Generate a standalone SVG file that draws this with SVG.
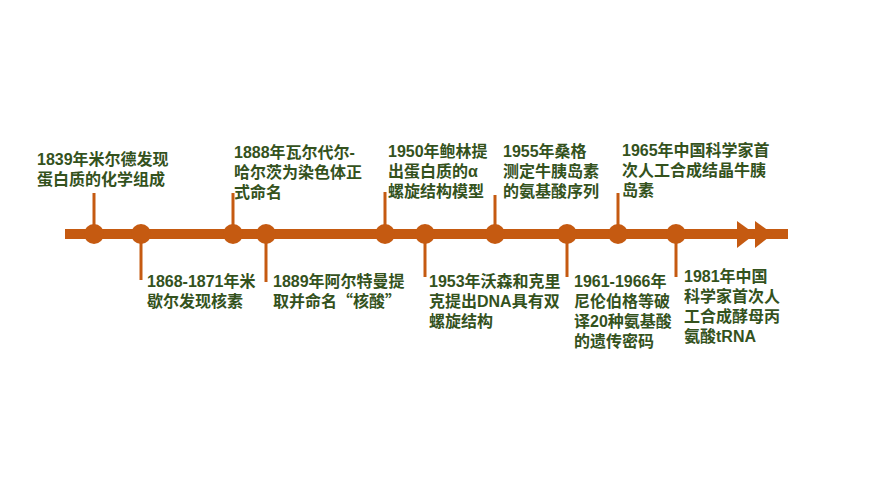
<svg xmlns="http://www.w3.org/2000/svg" width="870" height="489" viewBox="0 0 870 489">
<style>
.t{font-family:"Liberation Sans","Noto Sans CJK SC",sans-serif;font-weight:bold;font-size:16px;fill:#34521d}
.q{font-family:"Noto Sans CJK SC",sans-serif}
.s{stroke:#c55a11;stroke-width:3;fill:none}
.c{fill:#c55a11}
</style>
<rect width="870" height="489" fill="#ffffff"/>
<g id="connectors">
<rect x="65" y="229" width="723" height="10" class="c"/>
<polygon points="737,221 755,234 737,248" class="c"/>
<polygon points="755,221 773,234 755,248" class="c"/>
<line x1="94" y1="193" x2="94" y2="234" class="s"/>
<line x1="141" y1="234" x2="141" y2="280" class="s"/>
<line x1="233" y1="193" x2="233" y2="234" class="s"/>
<line x1="266" y1="234" x2="266" y2="282" class="s"/>
<line x1="385" y1="192" x2="385" y2="234" class="s"/>
<line x1="425" y1="234" x2="425" y2="277" class="s"/>
<line x1="495" y1="195" x2="495" y2="234" class="s"/>
<line x1="567" y1="234" x2="567" y2="277" class="s"/>
<line x1="618" y1="193" x2="618" y2="234" class="s"/>
<line x1="676" y1="234" x2="676" y2="277" class="s"/>
</g>
<g id="n1839"><circle cx="94" cy="234" r="10" class="c"/><text class="t" x="37" y="165">1839年米尔德发现</text><text class="t" x="37" y="185">蛋白质的化学组成</text></g>
<g id="n1868"><circle cx="141" cy="234" r="10" class="c"/><text class="t" x="147" y="287">1868-1871年米</text><text class="t" x="147" y="307">歇尔发现核素</text></g>
<g id="n1888"><circle cx="233" cy="234" r="10" class="c"/><text class="t" x="234" y="158">1888年瓦尔代尔-</text><text class="t" x="234" y="178">哈尔茨为染色体正</text><text class="t" x="234" y="198">式命名</text></g>
<g id="n1889"><circle cx="266" cy="234" r="10" class="c"/><text class="t" x="273" y="287">1889年阿尔特曼提</text><text class="t" x="273" y="307">取并命名<tspan class="q">“</tspan>核酸<tspan class="q">”</tspan></text></g>
<g id="n1950"><circle cx="385" cy="234" r="10" class="c"/><text class="t" x="388" y="157">1950年鲍林提</text><text class="t" x="388" y="177">出蛋白质的α</text><text class="t" x="388" y="197">螺旋结构模型</text></g>
<g id="n1953"><circle cx="425" cy="234" r="10" class="c"/><text class="t" x="429" y="287">1953年沃森和克里</text><text class="t" x="429" y="307">克提出DNA具有双</text><text class="t" x="429" y="327">螺旋结构</text></g>
<g id="n1955"><circle cx="495" cy="234" r="10" class="c"/><text class="t" x="503" y="157">1955年桑格</text><text class="t" x="503" y="177">测定牛胰岛素</text><text class="t" x="503" y="197">的氨基酸序列</text></g>
<g id="n1961"><circle cx="567" cy="234" r="10" class="c"/><text class="t" x="574" y="287">1961-1966年</text><text class="t" x="574" y="307">尼伦伯格等破</text><text class="t" x="574" y="327">译20种氨基酸</text><text class="t" x="574" y="347">的遗传密码</text></g>
<g id="n1965"><circle cx="618" cy="234" r="10" class="c"/><text class="t" x="622" y="156">1965年中国科学家首</text><text class="t" x="622" y="176">次人工合成结晶牛胰</text><text class="t" x="622" y="196">岛素</text></g>
<g id="n1981"><circle cx="676" cy="234" r="10" class="c"/><text class="t" x="684" y="282">1981年中国</text><text class="t" x="684" y="302">科学家首次人</text><text class="t" x="684" y="322">工合成酵母丙</text><text class="t" x="684" y="342">氨酸tRNA</text></g>
</svg>
